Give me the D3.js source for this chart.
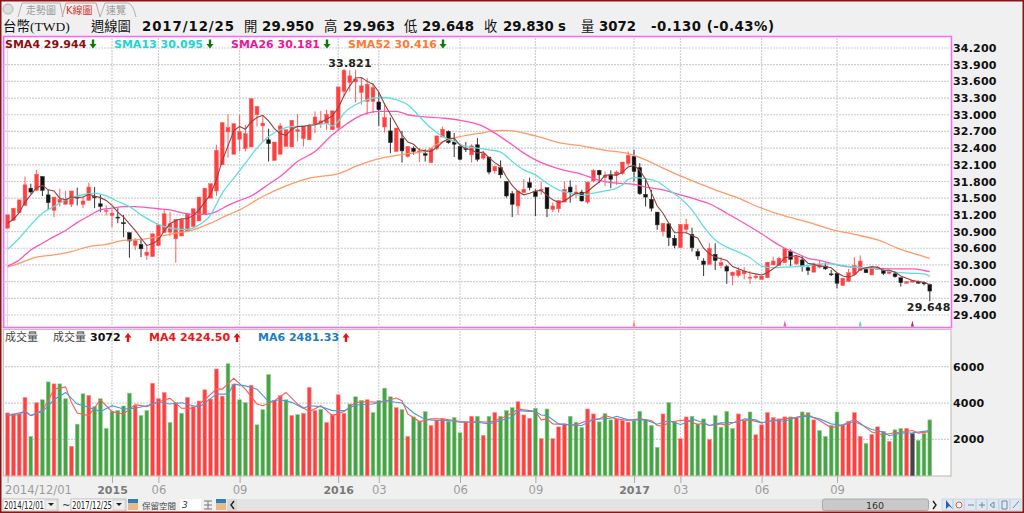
<!DOCTYPE html>
<html>
<head>
<meta charset="utf-8">
<script src="https://cdn.jsdelivr.net/npm/d3@7"></script>
<style>
  html, body { margin: 0; padding: 0; background: #f0f0f0; }
  svg { display: block; }
  text { font-family: "DejaVu Sans", "Noto Sans CJK TC", sans-serif; }
</style>
</head>
<body>
<svg id="chart" width="1024" height="513"></svg>
<script>
// weekly candles, one value per week
var opens = [
  30.96,31.10,31.24,31.37,31.68,31.64,31.89,31.56,31.28,31.42,
  31.39,31.39,31.52,31.39,31.46,31.53,31.40,31.27,31.19,31.16,
  31.06,30.88,30.65,30.67,30.47,30.45,30.65,30.88,30.89,30.77,
  30.82,30.91,30.99,31.09,31.21,31.50,31.63,32.10,32.69,32.29,
  32.56,32.39,32.42,33.00,32.80,32.55,32.18,32.29,32.43,32.42,
  32.70,32.57,32.55,32.82,32.84,32.85,32.73,32.77,33.42,33.58,
  33.59,33.40,33.24,33.24,33.23,32.78,32.71,32.34,32.57,32.25,
  32.40,32.34,32.30,32.14,32.39,32.60,32.70,32.51,32.43,32.39,
  32.28,32.46,32.22,32.24,31.99,32.05,31.80,31.58,31.36,31.60,
  31.78,31.62,31.65,31.69,31.30,31.31,31.43,31.70,31.60,31.61,
  31.43,31.81,32.00,31.87,31.92,31.92,31.94,32.12,32.25,32.05,
  31.57,31.48,31.25,30.90,31.04,30.78,30.61,30.94,30.85,30.54,
  30.37,30.31,30.49,30.29,30.27,30.11,30.11,30.14,30.07,30.07,
  30.04,30.07,30.30,30.29,30.34,30.54,30.32,30.39,30.25,30.17,
  30.26,30.28,30.14,30.15,29.93,30.00,30.13,30.20,30.22,30.12,
  30.22,30.20,30.15,30.14,30.07,29.97,29.99,29.99,29.98,29.95
];
var closes = [
  31.20,31.32,31.47,31.74,31.61,31.93,31.64,31.42,31.52,31.48,
  31.47,31.63,31.51,31.45,31.70,31.51,31.35,31.28,31.23,31.15,
  31.04,30.73,30.74,30.59,30.53,30.86,31.02,31.22,31.04,31.12,
  31.12,31.22,31.31,31.52,31.68,31.76,32.36,32.86,32.77,32.84,
  32.70,32.66,33.29,33.15,32.85,32.48,32.51,32.80,32.73,32.90,
  32.73,32.80,32.80,32.96,32.89,33.01,33.07,33.50,33.80,33.70,
  33.64,33.52,33.55,33.49,33.09,32.95,32.50,32.76,32.35,32.43,
  32.34,32.35,32.27,32.40,32.62,32.74,32.50,32.47,32.20,32.38,
  32.44,32.20,32.30,31.97,32.07,31.92,31.54,31.39,31.63,31.66,
  31.69,31.53,31.66,31.31,31.36,31.46,31.66,31.61,31.61,31.45,
  31.79,32.00,31.92,31.91,31.84,31.97,32.15,32.27,31.98,31.58,
  31.52,31.32,31.02,31.05,30.79,30.65,31.03,31.03,30.61,30.46,
  30.31,30.60,30.38,30.34,30.19,30.17,30.20,30.19,30.08,30.10,
  30.10,30.35,30.37,30.42,30.59,30.40,30.45,30.28,30.20,30.32,
  30.31,30.23,30.13,29.97,30.06,30.16,30.29,30.37,30.16,30.24,
  30.26,30.15,30.18,30.09,29.98,30.00,30.02,29.98,29.96,29.83
];
var highs = [
  31.20,31.32,31.47,31.89,31.76,32.01,31.89,31.65,31.52,31.67,
  31.63,31.63,31.69,31.53,31.78,31.70,31.56,31.37,31.29,31.32,
  31.20,30.88,30.78,30.78,30.66,30.86,31.02,31.30,31.25,31.12,
  31.12,31.22,31.31,31.52,31.68,31.76,32.46,32.86,33.01,32.84,
  33.00,32.82,33.29,33.15,32.99,32.75,32.51,32.85,32.73,32.90,
  33.01,32.80,32.84,33.06,33.07,33.09,33.07,33.50,33.821,33.81,
  33.81,33.66,33.66,33.57,33.40,33.21,32.95,32.76,32.71,32.43,
  32.43,32.40,32.38,32.40,32.62,32.79,32.72,32.67,32.43,32.51,
  32.47,32.58,32.35,32.24,32.07,32.18,31.80,31.63,31.63,31.84,
  31.87,31.66,31.80,31.69,31.42,31.46,31.80,31.82,31.74,31.65,
  31.79,32.02,32.01,31.98,32.00,32.00,32.15,32.34,32.37,32.13,
  31.86,31.65,31.25,31.05,31.04,30.84,31.03,31.13,30.97,30.59,
  30.42,30.69,30.69,30.44,30.30,30.18,30.26,30.26,30.19,30.13,
  30.10,30.35,30.45,30.45,30.59,30.58,30.48,30.46,30.28,30.34,
  30.37,30.34,30.21,30.15,30.06,30.23,30.44,30.47,30.26,30.27,
  30.28,30.23,30.18,30.18,30.07,30.00,30.02,30.02,30.00,29.963
];
var lows = [
  30.96,31.10,31.24,31.37,31.58,31.64,31.54,31.29,31.16,31.35,
  31.39,31.34,31.37,31.32,31.46,31.32,31.25,31.19,30.98,31.05,
  30.80,30.43,30.57,30.44,30.39,30.45,30.65,30.88,30.82,30.34,
  30.82,30.91,30.99,31.09,31.21,31.50,31.54,32.10,32.23,32.29,
  32.34,32.34,32.42,32.79,32.52,32.16,32.18,32.29,32.43,32.42,
  32.52,32.43,32.55,32.67,32.76,32.73,32.73,32.73,33.33,33.42,
  33.22,33.18,33.00,33.03,32.80,32.68,32.31,32.34,32.14,32.23,
  32.28,32.15,32.16,32.14,32.36,32.60,32.48,32.24,32.18,32.33,
  32.14,32.16,32.19,31.93,31.94,31.86,31.51,31.16,31.20,31.60,
  31.64,31.18,31.56,31.16,31.25,31.24,31.43,31.42,31.50,31.44,
  31.40,31.78,31.77,31.72,31.68,31.74,31.92,32.07,31.80,31.56,
  31.35,31.26,30.93,30.81,30.64,30.60,30.61,30.87,30.54,30.39,
  30.10,30.31,30.21,30.24,29.96,29.93,30.08,30.04,29.96,30.04,
  30.04,30.07,30.30,30.29,30.34,30.28,30.30,30.18,30.12,30.17,
  30.24,30.21,30.10,29.88,29.93,30.00,30.13,30.20,30.16,30.12,
  30.21,30.12,30.13,30.07,29.91,29.97,29.99,29.96,29.93,29.648
];

// short average drawn through every week
var sma4 = [
  31.05,31.12,31.24,31.43,31.56,31.69,31.73,31.65,31.63,31.50,
  31.47,31.52,31.51,31.52,31.57,31.54,31.51,31.46,31.37,31.25,
  31.16,31.04,30.92,30.78,30.65,30.68,30.75,30.91,31.04,31.10,
  31.13,31.13,31.19,31.29,31.43,31.57,31.83,32.17,32.44,32.71,
  32.79,32.74,32.87,32.95,32.99,32.89,32.75,32.66,32.63,32.74,
  32.79,32.79,32.81,32.82,32.86,32.92,32.98,33.12,33.34,33.52,
  33.66,33.67,33.60,33.55,33.41,33.19,33.01,32.83,32.64,32.51,
  32.47,32.37,32.35,32.34,32.41,32.51,32.57,32.58,32.45,32.39,
  32.37,32.31,32.33,32.23,32.14,32.07,31.88,31.73,31.62,31.56,
  31.59,31.63,31.64,31.55,31.47,31.42,31.45,31.52,31.59,31.58,
  31.62,31.71,31.79,31.91,31.92,31.91,31.97,32.06,32.09,32.00,
  31.84,31.60,31.36,31.23,31.05,30.88,30.88,30.88,30.83,30.78,
  30.60,30.50,30.44,30.41,30.38,30.27,30.23,30.19,30.16,30.14,
  30.12,30.16,30.23,30.31,30.43,30.45,30.47,30.43,30.33,30.31,
  30.28,30.27,30.25,30.16,30.10,30.08,30.12,30.22,30.25,30.27,
  30.26,30.20,30.21,30.17,30.10,30.06,30.02,30.00,29.99,29.944
];

// longer averages, [week, value] pairs where the curve could be read
var sma13 = [[0,30.58],[2,30.78],[4,31.02],[6,31.23],[8,31.35],[10,31.47],[12,31.54],[14,31.58],[15,31.59],[17,31.54],
  [19,31.44],[21,31.35],[23,31.20],[25,31.08],[27,30.99],[29,30.95],[31,30.94],[33,31.02],[35,31.20],[36,31.39],
  [37,31.59],[39,31.86],[41,32.13],[43,32.40],[45,32.61],[47,32.73],[49,32.79],[51,32.80],[53,32.82],[55,32.84],
  [56,32.80],[57,32.88],[58,33.03],[60,33.18],[62,33.27],[64,33.31],[65,33.31],[67,33.27],[69,33.18],[71,32.97],
  [73,32.76],[75,32.61],[77,32.52],[79,32.43],[81,32.40],[83,32.37],[85,32.33],[87,32.16],[89,32.01],[91,31.92],
  [93,31.77],[95,31.65],[97,31.59],[99,31.55],[101,31.59],[103,31.63],[105,31.68],[106,31.74],[107,31.84],[108,31.87],
  [110,31.85],[112,31.80],[114,31.65],[116,31.50],[118,31.29],[120,30.99],[122,30.75],[124,30.62],[126,30.53],[128,30.43],
  [130,30.28],[132,30.25],[134,30.26],[136,30.27],[138,30.29],[140,30.32],[142,30.32],[144,30.29],[146,30.26],[148,30.25],
  [150,30.23],[152,30.19],[154,30.16],[156,30.15],[158,30.14],[159,30.095]];
var sma26 = [[0,30.28],[2,30.39],[4,30.57],[6,30.69],[8,30.81],[10,30.92],[12,31.06],[14,31.18],[16,31.29],[18,31.32],
  [20,31.35],[22,31.35],[24,31.33],[26,31.31],[28,31.29],[30,31.24],[32,31.21],[34,31.21],[36,31.26],[38,31.37],
  [40,31.46],[42,31.54],[45,31.75],[47,31.89],[50,32.16],[53,32.34],[56,32.64],[58,32.80],[60,32.94],[62,33.03],
  [64,33.06],[67,33.06],[69,33.00],[71,32.97],[75,32.94],[78,32.90],[82,32.79],[84,32.67],[87,32.46],[89,32.31],
  [91,32.19],[93,32.10],[96,32.00],[99,31.93],[102,31.82],[105,31.77],[108,31.75],[110,31.70],[113,31.65],[116,31.56],
  [118,31.50],[121,31.40],[124,31.23],[127,31.05],[130,30.86],[132,30.72],[134,30.60],[136,30.51],[138,30.42],[140,30.38],
  [142,30.33],[144,30.28],[146,30.26],[148,30.25],[150,30.24],[153,30.23],[156,30.23],[158,30.20],[159,30.181]];
var sma52 = [[0,30.26],[2,30.33],[5,30.44],[8,30.48],[11,30.54],[14,30.63],[17,30.67],[20,30.74],[23,30.76],[26,30.81],
  [29,30.87],[32,30.93],[35,31.05],[38,31.20],[40,31.29],[44,31.53],[48,31.72],[52,31.86],[57,31.94],[60,32.07],
  [63,32.18],[66,32.25],[69,32.30],[72,32.34],[74,32.47],[77,32.58],[81,32.66],[85,32.72],[87,32.71],[91,32.62],
  [95,32.50],[99,32.44],[103,32.36],[107,32.30],[110,32.19],[113,32.04],[116,31.90],[122,31.65],[126,31.50],[130,31.32],
  [134,31.18],[138,31.07],[142,30.94],[146,30.85],[150,30.75],[154,30.58],[158,30.45],[159,30.416]];

var volumes = [
  3454,3400,3400,4309,2163,4018,4181,5163,5054,5054,
  4236,1618,2836,4509,4418,3800,4236,2600,3527,3582,
  3836,4545,3854,3309,3582,5090,4236,4581,2927,4018,
  3436,4309,3800,4109,4727,4218,5872,4381,6163,5036,
  4181,4018,4981,2800,3636,5563,4127,4400,4181,3309,
  3363,3436,4854,3582,3654,2927,3363,4454,3436,3945,
  4345,4145,4181,3472,4145,4818,4345,3745,3636,2163,
  3236,3000,3527,2763,3036,3127,3000,3200,2363,2981,
  3272,3272,2218,3272,3472,3272,3582,3745,4072,3345,
  3163,3709,2036,3672,2036,2690,2854,3272,2945,2654,
  3672,3400,2963,3418,3072,3127,3036,2945,3036,3545,
  3072,2763,1563,3400,4018,2963,2036,3236,3272,2854,
  3127,2000,3309,2672,3545,2600,3400,3036,3509,2254,
  2800,3472,3200,3127,3236,3236,3200,3509,3472,3072,
  2490,2163,2763,3509,2800,3000,3472,2163,1781,2272,
  2690,2436,1890,2527,2600,2600,2327,1945,2327,3072
];
// R red, G green, K dark, as coloured in the volume pane
var volumeKinds = (
  "RRRRGRGGRG" + "GRGGRGGGGG" + "GGRGGRRRGR" + "GRRRRRRRGR" + "GGRGGGRRGR" +
  "GRRRGRRRRG" + "GGRGGGGRGR" + "GGGRRRGGGR" + "RGRGRGGGRR" + "RGRGRRRGGG" +
  "RRGGGRRRGG" + "GGGRGGRRGG" + "GRGGGGRRGR" + "RRRRRGRGGR" + "GGGGRRRRGR" +
  "RGRGGRKGGG"
).split("");

var volumeMa4 = [[0,3345],[2,3345],[3,3582],[4,3309],[6,3582],[7,4127],[8,4763],[10,4890],[11,4036],[12,3454],
  [14,3309],[16,4181],[18,3527],[20,3400],[22,3909],[24,3800],[26,4072],[28,4254],[30,3709],[32,3709],
  [34,4181],[36,4763],[37,4763],[39,5363],[41,4763],[43,3945],[44,3854],[46,4127],[48,4581],[50,3945],
  [52,3527],[54,3854],[56,3309],[58,3527],[60,4036],[62,4072],[64,4036],[66,4181],[67,4272],[68,4127],
  [69,3400],[71,2981],[73,3127],[75,3127],[77,3036],[79,2945],[81,2981],[83,2945],[85,3127],[87,3454],
  [88,3672],[90,3582],[91,3527],[92,3072],[93,3127],[94,2854],[96,2818],[98,2800],[100,3036],[102,3127],
  [103,3309],[105,3127],[107,3036],[109,3127],[111,3036],[112,2763],[113,2727],[114,2945],[116,3036],[117,3072],
  [118,2945],[119,2818],[120,2890],[121,2763],[123,2854],[124,2763],[126,3036],[128,3072],[130,2909],[132,3036],
  [134,3127],[136,3218],[138,3345],[140,3036],[142,2636],[144,2800],[146,3090],[147,2890],[149,2400],[151,2254],
  [153,2363],[155,2436],[156,2490],[157,2345],[159,2424.5]];
var volumeMa6 = [[0,3309],[3,3527],[4,3309],[6,3527],[8,4181],[10,4581],[12,3945],[14,3763],[16,3527],[18,3854],
  [20,3672],[22,3709],[24,3854],[26,4072],[28,3945],[30,4018],[32,3854],[33,3763],[36,4491],[38,4491],
  [39,5036],[41,4945],[43,4763],[45,4072],[47,4181],[49,4036],[51,3709],[52,3854],[54,3800],[56,3582],
  [58,3582],[60,3891],[63,3945],[65,4127],[68,4000],[70,3454],[72,3091],[74,3036],[76,3036],[78,2945],
  [81,2945],[83,2854],[85,3036],[87,3218],[88,3582],[91,3527],[92,3345],[93,3309],[95,2854],[97,2800],
  [99,2763],[101,3091],[104,3163],[105,3272],[107,3072],[110,3072],[112,2836],[114,3036],[116,2818],[117,2909],
  [118,3127],[120,2909],[121,2763],[123,2909],[126,2945],[127,3127],[129,3072],[130,2909],[132,3036],[134,3000],
  [136,3218],[138,3272],[140,3127],[142,2854],[144,2763],[146,2981],[149,2545],[151,2400],[152,2200],[154,2345],
  [156,2363],[159,2481.33]];

var priceTicks = [34.2, 33.9, 33.6, 33.3, 33.0, 32.7, 32.4, 32.1, 31.8, 31.5, 31.2, 30.9, 30.6, 30.3, 30.0, 29.7, 29.4];
var volumeTicks = [2000, 4000, 6000];
var tickWeeks = [0, 18, 26, 40, 57, 64, 78, 91, 108, 116, 130, 143];
var tickLabels = ["2014/12/01", "2015", "06", "09", "2016", "03", "06", "09", "2017", "03", "06", "09"];
var yearLabels = ["2015", "2016", "2017"];
var markerWeeks = [108, 134, 147, 156];
var markerColors = ["#ff8a50", "#ff4fb0", "#40d8d8", "#a03050"];

var svg = d3.select("#chart");
var width = 1024, height = 513;

var xScale = d3.scaleLinear().domain([0, 159]).range([7.6, 929.8]);
var priceScale = d3.scaleLinear().domain([29.4, 34.2]).range([315, 48]);
var volumeScale = d3.scaleLinear().domain([0, 6000]).range([475.7, 366.7]);

function arrow(g, x, y, down, color) {
  let s = down ? 1 : -1;
  g.append("path")
    .attr("transform", `translate(${x},${y}) scale(1,${s})`)
    .attr("d", "M-1.2,-4.5L1.2,-4.5L1.2,0L3.5,0L0,4.5L-3.5,0L-1.2,0Z")
    .attr("fill", color);
}

svg.append("rect").attr("width", width).attr("height", height).attr("fill", "#f0f0f0");

// panes
svg.append("rect").attr("x", 3.7).attr("y", 36.5).attr("width", 947.8).attr("height", 291)
  .attr("fill", "#fff").attr("stroke", "#ff66ff").attr("stroke-width", 1.5);
svg.append("rect").attr("x", 3.5).attr("y", 329.5).attr("width", 947.5).attr("height", 146.5)
  .attr("fill", "#fff").attr("stroke", "#c8c4bc").attr("stroke-width", 1.2);

// grid
let grid = svg.append("g").attr("fill", "none").attr("stroke", "#cfcfcf").attr("stroke-width", 1.2).attr("stroke-dasharray", "2,1");
grid.selectAll(".hp").data(priceTicks).join("line").attr("class", "hp")
  .attr("x1", 5).attr("x2", 950).attr("y1", d => priceScale(d)).attr("y2", d => priceScale(d));
grid.selectAll(".hv").data(volumeTicks).join("line").attr("class", "hv")
  .attr("x1", 5).attr("x2", 950).attr("y1", d => volumeScale(d)).attr("y2", d => volumeScale(d));
grid.selectAll(".vp").data(tickWeeks.slice(1)).join("line").attr("class", "vp")
  .attr("x1", d => xScale(d)).attr("x2", d => xScale(d)).attr("y1", 38).attr("y2", 326);
grid.selectAll(".vv").data(tickWeeks.slice(1)).join("line").attr("class", "vv")
  .attr("x1", d => xScale(d)).attr("x2", d => xScale(d)).attr("y1", 331).attr("y2", 475);
svg.append("line").attr("x1", xScale(0)).attr("x2", xScale(0)).attr("y1", 38).attr("y2", 326)
  .attr("stroke", "#f0c8f0").attr("stroke-width", 1);

// volume bars
let bars = svg.append("g");
bars.selectAll("rect").data(volumes).join("rect")
  .attr("x", (d, i) => xScale(i) - 1.9)
  .attr("y", d => volumeScale(d))
  .attr("width", 3.8)
  .attr("height", d => volumeScale(0) - volumeScale(d))
  .attr("fill", (d, i) => ({ R: "#ff4040", G: "#46a346", K: "#444" })[volumeKinds[i]])
  .attr("stroke", (d, i) => ({ R: "#ff8a8a", G: "#8fcf8f", K: "#777" })[volumeKinds[i]])
  .attr("stroke-width", 0.6);

let volLine = d3.line().x(d => xScale(d[0])).y(d => volumeScale(d[1]));
svg.append("path").attr("d", volLine(volumeMa4)).attr("fill", "none").attr("stroke", "#ff5a5a").attr("stroke-width", 1.1);
svg.append("path").attr("d", volLine(volumeMa6)).attr("fill", "none").attr("stroke", "#4a9ad8").attr("stroke-width", 1.1);

// candles
let candles = svg.append("g").selectAll("g").data(opens).join("g")
  .attr("stroke", (d, i) => closes[i] >= d ? "#ff5a5a" : "#333")
  .attr("fill", (d, i) => closes[i] >= d ? "#ff4040" : "#111");
candles.append("line")
  .attr("x1", (d, i) => xScale(i)).attr("x2", (d, i) => xScale(i))
  .attr("y1", (d, i) => priceScale(highs[i])).attr("y2", (d, i) => priceScale(lows[i]));
candles.append("rect")
  .attr("x", (d, i) => xScale(i) - 1.9)
  .attr("width", 3.8)
  .attr("y", (d, i) => priceScale(Math.max(d, closes[i])))
  .attr("height", (d, i) => Math.max(1, Math.abs(priceScale(d) - priceScale(closes[i]))))
  .attr("stroke-width", 0.5);

// price averages
let smaPair = d3.line().curve(d3.curveMonotoneX).x(d => xScale(d[0])).y(d => priceScale(d[1]));
let smaFlat = d3.line().x((d, i) => xScale(i)).y(d => priceScale(d));
svg.append("path").attr("d", smaPair(sma52)).attr("fill", "none").attr("stroke", "#ff9a68").attr("stroke-width", 1.3);
svg.append("path").attr("d", smaPair(sma26)).attr("fill", "none").attr("stroke", "#ff55bb").attr("stroke-width", 1.3);
svg.append("path").attr("d", smaPair(sma13)).attr("fill", "none").attr("stroke", "#60dede").attr("stroke-width", 1.3);
svg.append("path").attr("d", smaFlat(sma4)).attr("fill", "none").attr("stroke", "#94403f").attr("stroke-width", 1.1);

// little crossing markers on the bottom of the price pane
svg.append("g").selectAll("path").data(markerWeeks).join("path")
  .attr("d", "M0,-6L1.5,0L-1.5,0Z")
  .attr("transform", d => `translate(${xScale(d)},326.5)`)
  .attr("fill", (d, i) => markerColors[i]);

// axes
let priceAxis = d3.axisRight(priceScale).tickValues(priceTicks).tickSize(0).tickPadding(0).tickFormat(d3.format(".3f"));
let volumeAxis = d3.axisRight(volumeScale).tickValues(volumeTicks).tickSize(0).tickPadding(0).tickFormat(d3.format("d"));
svg.append("g").attr("transform", "translate(953,0)").call(priceAxis)
  .call(g => g.select(".domain").remove())
  .selectAll("text").attr("font-size", 11).attr("letter-spacing", 0.2).attr("font-weight", "bold").attr("fill", "#111").style("font-family", "DejaVu Sans");
svg.append("g").attr("transform", "translate(953,0)").call(volumeAxis)
  .call(g => g.select(".domain").remove())
  .selectAll("text").attr("font-size", 11).attr("letter-spacing", 0.2).attr("font-weight", "bold").attr("fill", "#111").style("font-family", "DejaVu Sans");

let xAxis = d3.axisBottom(xScale).tickValues(tickWeeks).tickSize(7).tickPadding(3).tickFormat((d, i) => tickLabels[i]);
svg.append("g").attr("transform", "translate(0,476)").call(xAxis)
  .call(g => g.select(".domain").remove())
  .call(g => g.selectAll("line").attr("stroke", "#aaa"))
  .selectAll("text")
  .attr("font-size", d => yearLabels.includes(tickLabels[tickWeeks.indexOf(d)]) ? 11 : 11.6)
  .attr("font-weight", d => yearLabels.includes(tickLabels[tickWeeks.indexOf(d)]) ? "bold" : "normal")
  .attr("fill", d => yearLabels.includes(tickLabels[tickWeeks.indexOf(d)]) ? "#7a7a7a" : "#9c9c9c")
  .attr("text-anchor", d => d === 0 ? "start" : "middle")
  .attr("dx", d => d === 0 ? -3 : 0)
  .style("font-family", "DejaVu Sans");

// value notes on the high and low
let notes = svg.append("g").attr("font-size", 11).attr("letter-spacing", 0.2).attr("font-weight", "bold").attr("fill", "#222");
notes.append("text").attr("x", xScale(58) + 6).attr("y", 67).attr("text-anchor", "middle").text(d3.format(".3f")(highs[58]));
notes.append("text").attr("x", 950.5).attr("y", 311).attr("text-anchor", "end").text(d3.format(".3f")(lows[159]));

// header line
let head = svg.append("g").attr("font-size", 13.3).attr("fill", "#111");
head.append("text").attr("x", 3).attr("y", 31).attr("font-size", 13.5)
  .style("font-family", "Liberation Serif, Noto Sans CJK TC").text("台幣(TWD)");
[[91, "週線圖", 0], [142, "2017/12/25", 92], [244, "開", 0], [262, "29.950", 52], [324, "高", 0], [343, "29.963", 52],
 [404, "低", 0], [422, "29.648", 52], [484, "收", 0], [503, "29.830 s", 63], [581, "量", 0], [599, "3072", 37], [651, "-0.130 (-0.43%)", 123]]
  .forEach(t => {
    let item = head.append("text").attr("x", t[0]).attr("y", 31).text(t[1])
      .attr("font-weight", t[2] ? "bold" : "normal");
    if (t[2]) item.attr("textLength", t[2]).attr("lengthAdjust", "spacing");
  });

// price legend
let legend = svg.append("g").attr("font-size", 11).attr("font-weight", "bold");
[[5, 93, "SMA4 29.944", "#8b0f0f"], [114, 210, "SMA13 30.095", "#20d4d4"],
 [231, 327, "SMA26 30.181", "#f0149a"], [348, 443, "SMA52 30.416", "#ff7a33"]]
  .forEach(t => {
    legend.append("text").attr("x", t[0]).attr("y", 48).attr("fill", t[3]).text(t[2]);
    arrow(legend, t[1], 44, true, "#0a7a0a");
  });

// volume legend
let vlegend = svg.append("g").attr("font-size", 11);
vlegend.append("text").attr("x", 5).attr("y", 341).attr("fill", "#444").text("成交量");
vlegend.append("text").attr("x", 53).attr("y", 341).attr("fill", "#444").text("成交量");
vlegend.append("text").attr("x", 90).attr("y", 341).attr("font-weight", "bold").attr("fill", "#111").text("3072");
arrow(vlegend, 128, 337.5, false, "#e81010");
vlegend.append("text").attr("x", 149).attr("y", 341).attr("font-weight", "bold").attr("fill", "#f01414").text("MA4 2424.50");
arrow(vlegend, 237, 337.5, false, "#e81010");
vlegend.append("text").attr("x", 258).attr("y", 341).attr("font-weight", "bold").attr("fill", "#1c7cc8").text("MA6 2481.33");
arrow(vlegend, 346, 337.5, false, "#e81010");

// tab strip
let tabs = svg.append("g").attr("fill", "none").attr("stroke", "#b0b0b0");
tabs.append("circle").attr("cx", 8).attr("cy", 9).attr("r", 5).attr("fill", "#ddd");
tabs.append("path").attr("d", "M18,17L22,3L60,3L63,17");
tabs.append("path").attr("d", "M62,17L66,3L96,3L100,17").attr("stroke", "#c0a0a0");
tabs.append("path").attr("d", "M100,17L105,3L128,3Q133,4 136,17");
let tabText = svg.append("g").attr("font-size", 10);
tabText.append("text").attr("x", 26).attr("y", 14).attr("fill", "#9a9a9a").text("走勢圖");
tabText.append("text").attr("x", 66).attr("y", 14).attr("fill", "#dd3333").text("K線圖");
tabText.append("text").attr("x", 106).attr("y", 14).attr("fill", "#9a9a9a").text("速覽");

// bottom tool strip
let tool = svg.append("g");
tool.append("rect").attr("x", 237).attr("y", 499).attr("width", 586).attr("height", 12).attr("fill", "#e3e3e3");
tool.append("rect").attr("x", 822.5).attr("y", 499).attr("width", 106).attr("height", 11.5).attr("rx", 2).attr("fill", "#c9c9c9").attr("stroke", "#aaa");
tool.append("text").attr("x", 875).attr("y", 509).attr("text-anchor", "middle").attr("font-size", 9.5).attr("fill", "#333").text("160");
[[3, 55, "2014/12/01"], [71, 55, "2017/12/25"]].forEach(t => {
  tool.append("rect").attr("x", t[0]).attr("y", 499).attr("width", t[1]).attr("height", 12).attr("fill", "#fff").attr("stroke", "#999").attr("stroke-width", 0.6);
  tool.append("text").attr("x", t[0] + 1).attr("y", 509).attr("font-size", 10).attr("textLength", 40).attr("lengthAdjust", "spacingAndGlyphs").attr("fill", "#222").text(t[2]);
  tool.append("rect").attr("x", t[0] + 42).attr("y", 500).attr("width", 12).attr("height", 10).attr("fill", "#eee").attr("stroke", "#bbb").attr("stroke-width", 0.6);
  tool.append("path").attr("d", `M${t[0] + 45},503L${t[0] + 51},503L${t[0] + 48},506Z`).attr("fill", "#222");
});
tool.append("text").attr("x", 62).attr("y", 509).attr("font-size", 10).attr("fill", "#333").text("~");
tool.append("text").attr("x", 142).attr("y", 509).attr("font-size", 8.5).attr("textLength", 34).attr("fill", "#444").text("保留空間");
tool.append("rect").attr("x", 180).attr("y", 499).attr("width", 21).attr("height", 12).attr("fill", "#fff");
tool.append("text").attr("x", 182).attr("y", 508).attr("font-size", 9).attr("font-style", "italic").attr("fill", "#333").text("3");
tool.append("path").attr("d", "M204,501H212M204,505H212M204,509H212M208,501V509").attr("stroke", "#777").attr("fill", "none");
[128, 216].forEach(x => {
  tool.append("rect").attr("x", x).attr("y", 499).attr("width", 10).attr("height", 11).attr("fill", "#e9b98a");
  tool.append("rect").attr("x", x).attr("y", 499).attr("width", 10).attr("height", 4).attr("fill", "#2a7fc0");
});
tool.append("rect").attr("x", 227).attr("y", 499).attr("width", 10).attr("height", 12).attr("fill", "#d8d8d8");
tool.append("path").attr("d", "M234,501L231,505L234,509").attr("fill", "none").attr("stroke", "#222").attr("stroke-width", 1.4);
tool.append("path").attr("d", "M933,501L936,505L933,509").attr("fill", "none").attr("stroke", "#222").attr("stroke-width", 1.4);
d3.range(7).forEach(i => {
  let x = 942 + i * 11.4;
  tool.append("rect").attr("x", x).attr("y", 499).attr("width", 10.6).attr("height", 11.5).attr("fill", "#dfe9f4").attr("stroke", "#b4c4d4").attr("stroke-width", 0.5);
});
tool.append("path").attr("d", "M946,500L946,509L949,506L953,509Z").attr("fill", "#2a5ea8");
tool.append("circle").attr("cx", 959).attr("cy", 505).attr("r", 3).attr("fill", "#fff").attr("stroke", "#d06040");
tool.append("path").attr("d", "M968,505H974M979,505H985M982,502V508M990,505L994,502V508ZM1002,501H1007V509H1002ZM1013,508L1019,501").attr("stroke", "#7088a0").attr("fill", "none");

// outer frame
svg.append("rect").attr("x", 0.75).attr("y", 0.75).attr("width", 1022.5).attr("height", 511.5)
  .attr("fill", "none").attr("stroke", "#8a1414").attr("stroke-width", 1.5);
</script>
</body>
</html>
